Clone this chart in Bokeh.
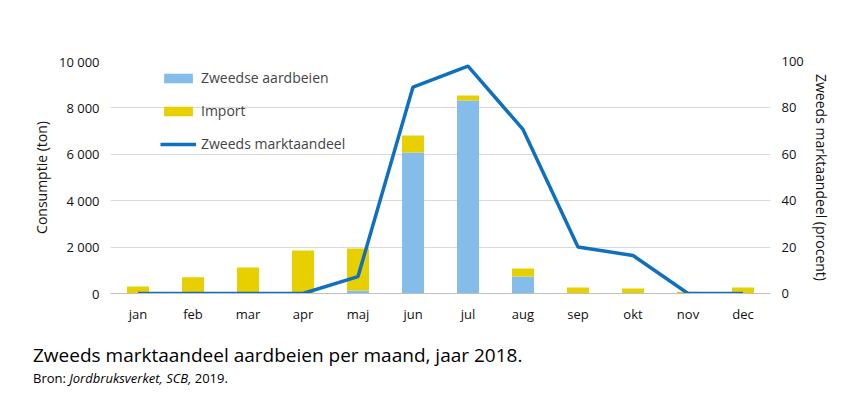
from bokeh.plotting import figure
from bokeh.models import Range1d, LinearAxis, FixedTicker, Legend, LegendItem, Div
from bokeh.layouts import column
from bokeh.embed import file_html
from bokeh.resources import INLINE

months = ["jan","feb","mar","apr","maj","jun","jul","aug","sep","okt","nov","dec"]
swedish = [0, 0, 0, 0, 130, 6080, 8320, 730, 0, 0, 0, 0]
imports = [300, 700, 1120, 1850, 1810, 730, 210, 350, 260, 220, 80, 260]
share = [0, 0, 0, 0, 7.3, 89, 98, 70.7, 20, 16.4, 0, 0]
left_ticks = [0, 2000, 4000, 6000, 8000, 10000]
left_labels = ["0", "2 000", "4 000", "6 000", "8 000", "10 000"]
right_ticks = [0, 20, 40, 60, 80, 100]

FONT = "Open Sans"
p = figure(x_range=months, y_range=Range1d(0, 10000), width=836, height=343,
           output_backend="svg", toolbar_location=None,
           min_border_left=110, min_border_right=66, min_border_top=61, min_border_bottom=50)
p.outline_line_color = None
p.xgrid.grid_line_color = None
p.ygrid.grid_line_color = "#d9d9d9"
p.extra_y_ranges = {"pct": Range1d(0, 100)}

data = dict(m=months, s=swedish, i=imports)
r = p.vbar_stack(["s", "i"], x="m", width=0.4, source=data,
                 color=["#85BDEA", "#E8CF00"], line_color=None)
ln = p.line(months, share, y_range_name="pct", line_color="#1070C0", line_width=3.5)

p.yaxis.ticker = FixedTicker(ticks=left_ticks)
p.yaxis.major_label_overrides = {t: l for t, l in zip(left_ticks, left_labels)}
p.yaxis.axis_label = "Consumptie (ton)"
ax2 = LinearAxis(y_range_name="pct", ticker=FixedTicker(ticks=right_ticks),
                 axis_label="Zweeds marktaandeel (procent)")
p.add_layout(ax2, "right")
for ax in [p.yaxis[0], ax2, p.xaxis[0]]:
    ax.major_tick_line_color = None
    ax.minor_tick_line_color = None
    ax.major_label_text_font = FONT
    ax.major_label_text_font_size = "13px"
    ax.major_label_text_color = "#111111"
    ax.axis_label_text_font = FONT
    ax.axis_label_text_font_size = "14px"
    ax.axis_label_text_font_style = "normal"
    ax.axis_label_text_color = "#111111"
for ax in [p.yaxis[0], ax2]:
    ax.axis_line_color = None
p.xaxis.axis_line_color = "#bfbfbf"

leg = Legend(items=[LegendItem(label="Zweedse aardbeien", renderers=[r[0]]),
                    LegendItem(label="Import", renderers=[r[1]]),
                    LegendItem(label="Zweeds marktaandeel", renderers=[ln])],
             location=(50, 140), border_line_color=None, background_fill_alpha=0,
             label_text_font=FONT, label_text_font_size="14px", spacing=14,
             glyph_width=36, glyph_height=12)
p.add_layout(leg, "center")

cap = Div(text='<div style="font-family:\'Open Sans\';margin-left:28px;margin-top:-6px">'
          '<div style="font-size:19px">Zweeds marktaandeel aardbeien per maand, jaar 2018.</div>'
          '<div style="font-size:13px">Bron: <i>Jordbruksverket, SCB,</i> 2019.</div></div>',
          width=836, height=55)
open("out.html", "w").write(file_html(column(p, cap, spacing=0), INLINE))
